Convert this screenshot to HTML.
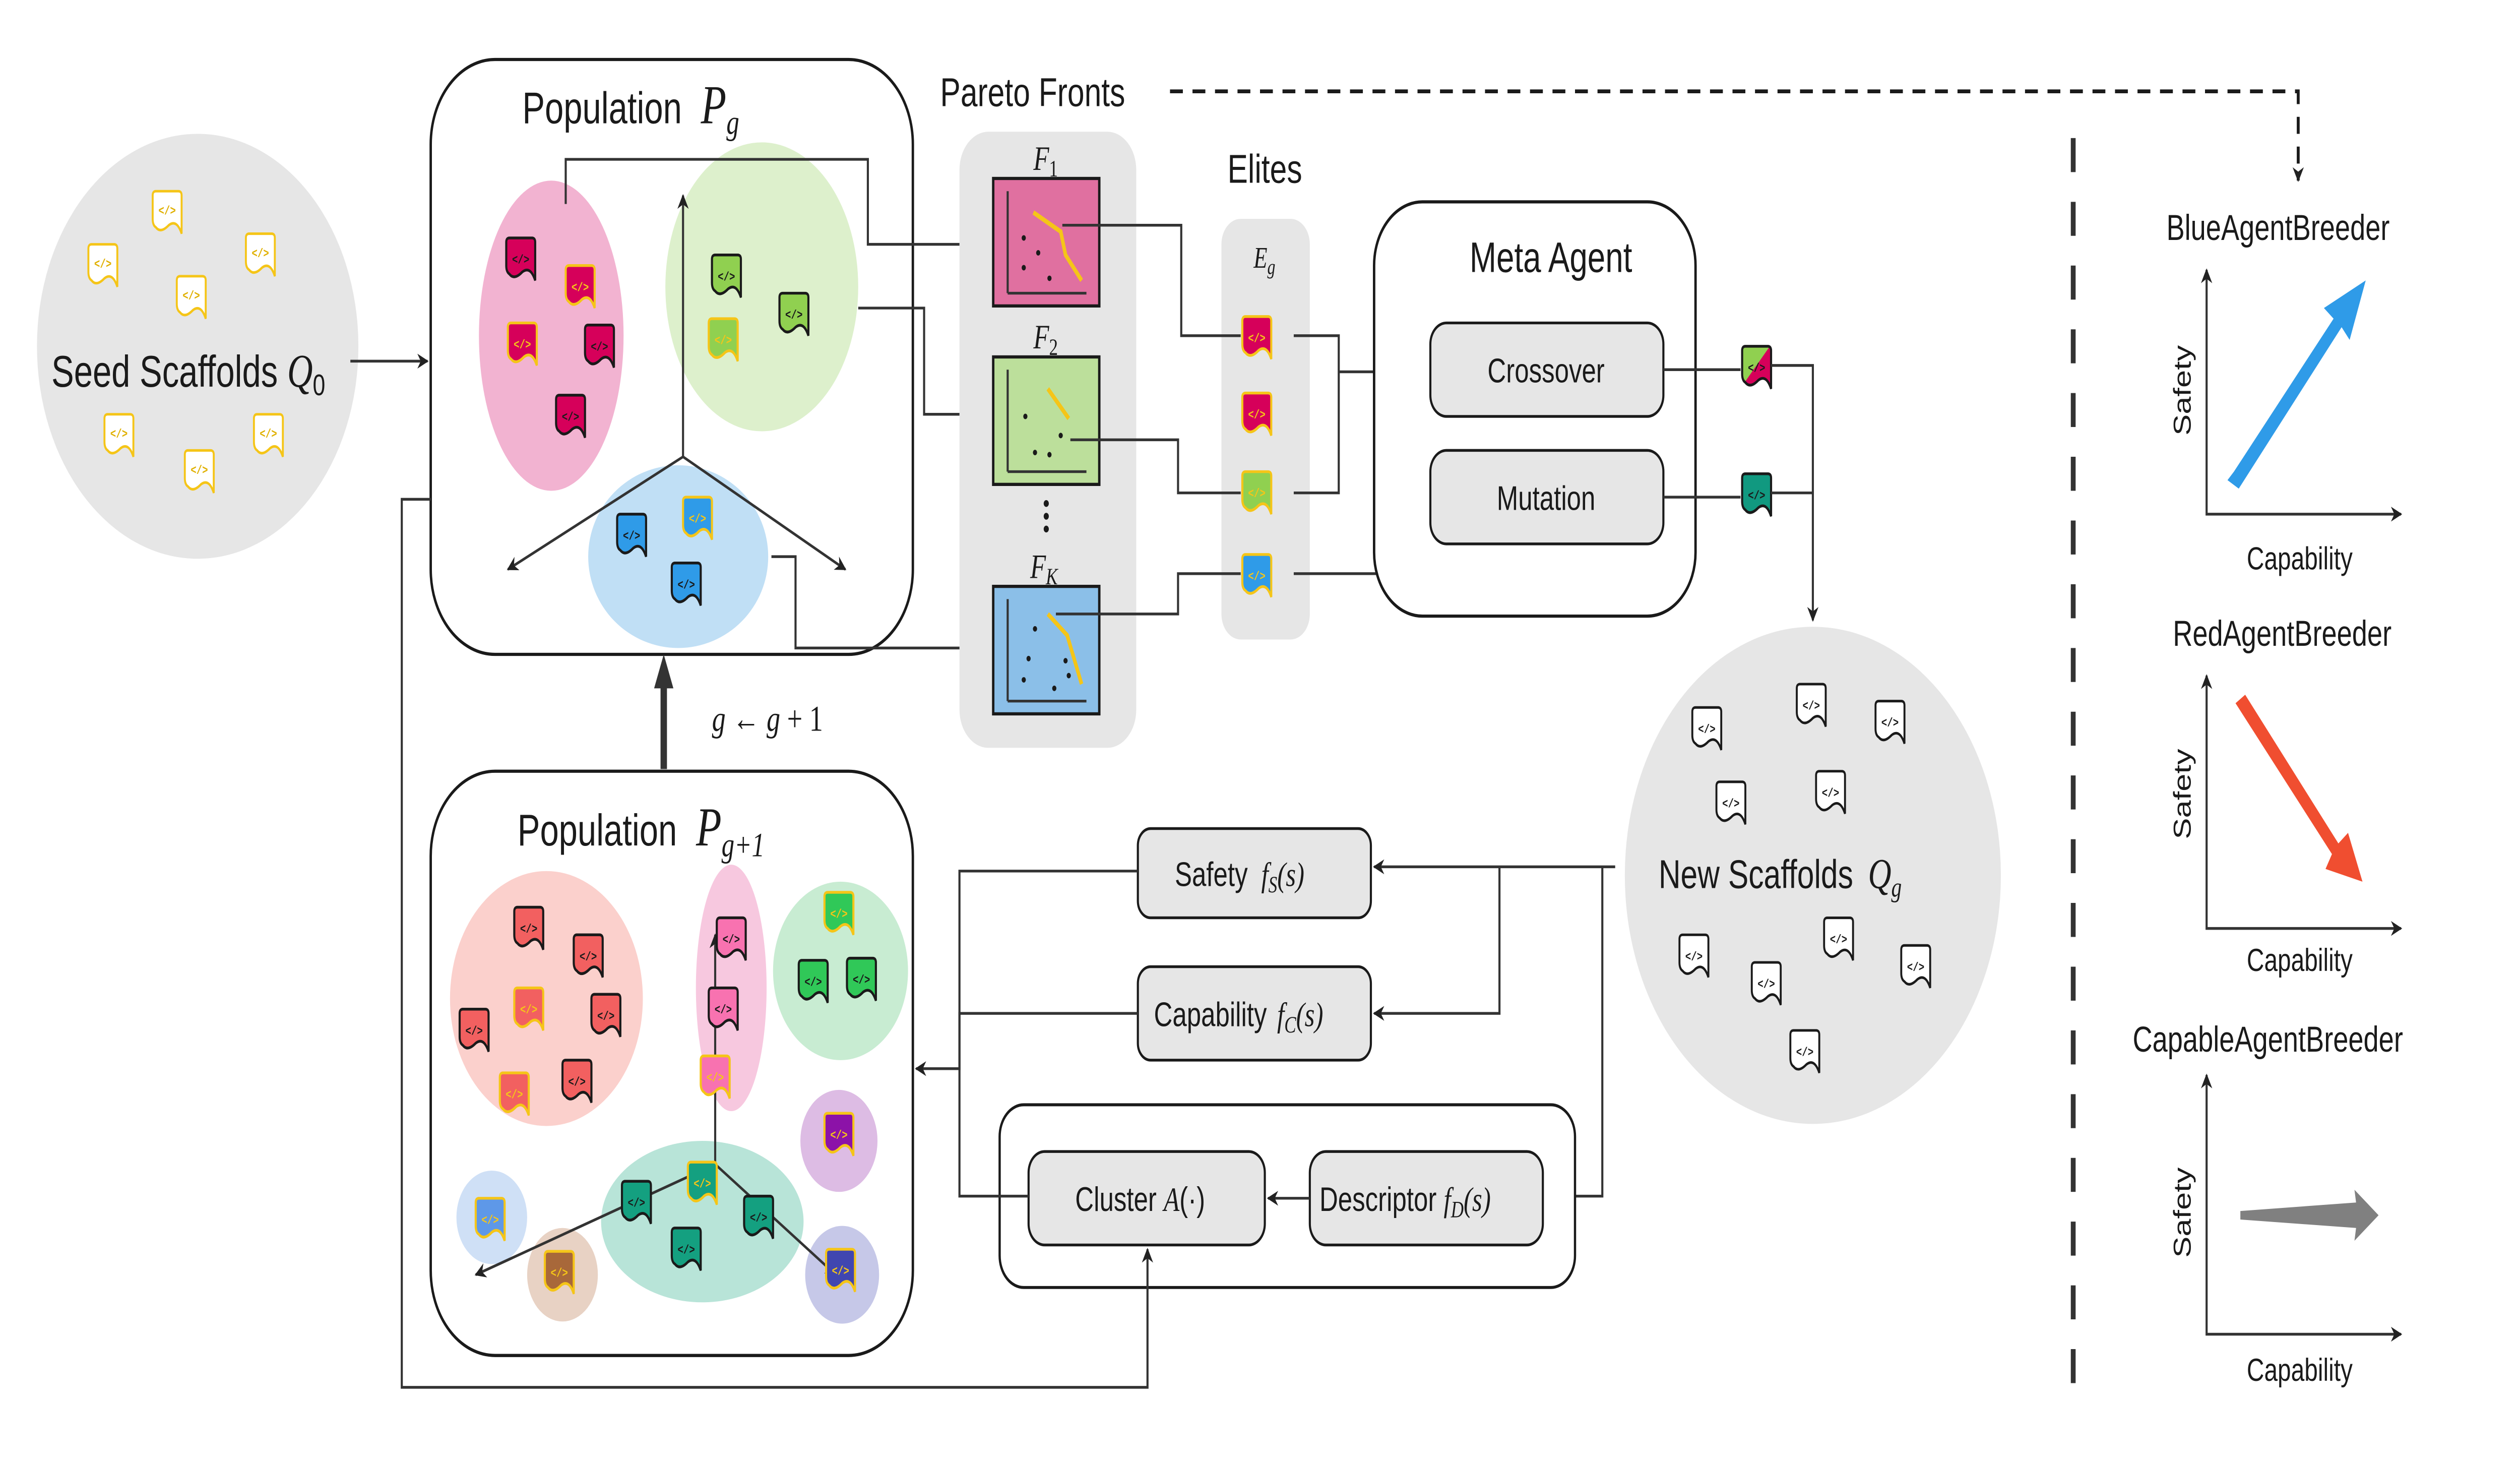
<!DOCTYPE html>
<html><head><meta charset="utf-8"><style>
html,body{margin:0;padding:0;background:#fff;overflow:hidden;width:100%;height:100%}
svg{display:block;width:100vw;height:100vh}
text{font-family:"Liberation Sans",sans-serif;fill:#1a1a1a}
.m{font-family:"Liberation Serif",serif;font-style:italic}
.c{font-family:"Liberation Mono",monospace;font-size:6px;font-weight:bold;text-anchor:middle}
.ln{fill:none;stroke:#333;stroke-width:1.3}
</style></head><body>
<svg viewBox="0 0 1568 687.2" preserveAspectRatio="none" xmlns="http://www.w3.org/2000/svg">
<defs>
<marker id="ar" viewBox="0 0 10 10" refX="9" refY="5" markerWidth="7" markerHeight="7" orient="auto-start-reverse" markerUnits="userSpaceOnUse"><path d="M0,0 L10,5 L0,10 L3,5 Z" fill="#222"/></marker>
<path id="ic" d="M2,0 H16 Q18,0 18,2 V20 Q15,13 10,16 Q5,20 2,17 Q0,16 0,13 V2 Q0,0 2,0 Z"/>
</defs>
<rect width="1568" height="687.2" fill="#fff"/>

<!-- Seed -->
<circle cx="123" cy="163" r="100" fill="#e6e6e6"/>
<g stroke="#f5c518" stroke-width="1.2" fill="#fff">
<use href="#ic" x="95" y="90"/><use href="#ic" x="55" y="115"/><use href="#ic" x="110" y="130"/><use href="#ic" x="153" y="110"/><use href="#ic" x="65" y="195"/><use href="#ic" x="115" y="212"/><use href="#ic" x="158" y="195"/>
</g>
<text x="104" y="101" class="c" style="fill:#e0b000">&lt;/&gt;</text><text x="64" y="126" class="c" style="fill:#e0b000">&lt;/&gt;</text><text x="119" y="141" class="c" style="fill:#e0b000">&lt;/&gt;</text><text x="162" y="121" class="c" style="fill:#e0b000">&lt;/&gt;</text><text x="74" y="206" class="c" style="fill:#e0b000">&lt;/&gt;</text><text x="124" y="223" class="c" style="fill:#e0b000">&lt;/&gt;</text><text x="167" y="206" class="c" style="fill:#e0b000">&lt;/&gt;</text>
<text x="32" y="182" font-size="21">Seed Scaffolds <tspan class="m" font-size="22">Q</tspan><tspan font-size="14" dy="4">0</tspan></text>
<line x1="218" y1="170" x2="266" y2="170" class="ln" marker-end="url(#ar)"/>

<!-- Population Pg -->
<rect x="268" y="28" width="300" height="280" rx="40" fill="#fff" stroke="#1a1a1a" stroke-width="1.5"/>
<text x="325" y="58" font-size="21">Population <tspan class="m" font-size="26" dx="6">P</tspan><tspan class="m" font-size="16" dy="5">g</tspan></text>
<ellipse cx="343" cy="158" rx="45" ry="73" fill="#f2b3d1"/>
<ellipse cx="474" cy="135" rx="60" ry="68" fill="#ddf0cc"/>
<ellipse cx="422" cy="262" rx="56" ry="43" fill="#c0dff5"/>
<line x1="425" y1="215" x2="425" y2="92" class="ln" marker-end="url(#ar)"/>
<line x1="425" y1="215" x2="316" y2="268" class="ln" marker-end="url(#ar)"/>
<line x1="425" y1="215" x2="526" y2="268" class="ln" marker-end="url(#ar)"/>
<g stroke-width="1.3">
<use href="#ic" x="315" y="112" fill="#d6005a" stroke="#1a1a1a"/><use href="#ic" x="352" y="125" fill="#d6005a" stroke="#f5c518"/><use href="#ic" x="316" y="152" fill="#d6005a" stroke="#f5c518"/><use href="#ic" x="364" y="153" fill="#d6005a" stroke="#1a1a1a"/><use href="#ic" x="346" y="186" fill="#d6005a" stroke="#1a1a1a"/>
<use href="#ic" x="443" y="120" fill="#90d050" stroke="#1a1a1a"/><use href="#ic" x="441" y="150" fill="#90d050" stroke="#f5c518"/><use href="#ic" x="485" y="138" fill="#90d050" stroke="#1a1a1a"/>
<use href="#ic" x="384" y="242" fill="#2f9be8" stroke="#1a1a1a"/><use href="#ic" x="425" y="234" fill="#2f9be8" stroke="#f5c518"/><use href="#ic" x="418" y="265" fill="#2f9be8" stroke="#1a1a1a"/>
</g>
<text x="324" y="124" class="c">&lt;/&gt;</text><text x="361" y="137" class="c" style="fill:#f5c518">&lt;/&gt;</text><text x="325" y="164" class="c" style="fill:#f5c518">&lt;/&gt;</text><text x="373" y="165" class="c">&lt;/&gt;</text><text x="355" y="198" class="c">&lt;/&gt;</text>
<text x="452" y="132" class="c">&lt;/&gt;</text><text x="450" y="162" class="c" style="fill:#f5c518">&lt;/&gt;</text><text x="494" y="150" class="c">&lt;/&gt;</text>
<text x="393" y="254" class="c">&lt;/&gt;</text><text x="434" y="246" class="c" style="fill:#f5c518">&lt;/&gt;</text><text x="427" y="277" class="c">&lt;/&gt;</text>
<path d="M352,96 V75 H540 V115 H615" class="ln" marker-end="url(#ar)"/>
<path d="M534,145 H575 V195 H615" class="ln" marker-end="url(#ar)"/>
<path d="M480,262 H495 V305 H615" class="ln" marker-end="url(#ar)"/>

<!-- Pareto -->
<text x="585" y="50" font-size="19">Pareto Fronts</text>
<path d="M728,43 H1430 V85" fill="none" stroke="#1a1a1a" stroke-width="1.8" stroke-dasharray="8,6" marker-end="url(#ar)"/>
<rect x="597" y="62" width="110" height="290" rx="18" fill="#e6e6e6"/>
<rect x="618" y="84" width="66" height="60" fill="#e070a0" stroke="#1a1a1a" stroke-width="1.5"/>
<rect x="618" y="168" width="66" height="60" fill="#bcdf9b" stroke="#1a1a1a" stroke-width="1.5"/>
<rect x="618" y="276" width="66" height="60" fill="#8bbfe8" stroke="#1a1a1a" stroke-width="1.5"/>
<g class="ln" stroke="#1a1a1a" stroke-width="0.9">
<path d="M627,138 V90 M627,138 H676"/><path d="M627,222 V174 M627,222 H676"/><path d="M627,330 V282 M627,330 H676"/>
</g>
<path d="M643,100 L660,109 L663,120 L673,132" fill="none" stroke="#f5c518" stroke-width="2.2"/>
<path d="M652,183 L665,197" fill="none" stroke="#f5c518" stroke-width="2.2"/>
<path d="M652,289 L664,299 L673,322" fill="none" stroke="#f5c518" stroke-width="2.2"/>
<g fill="#1a1a1a"><circle cx="637" cy="112" r="1.3"/><circle cx="646" cy="119" r="1.3"/><circle cx="637" cy="126" r="1.3"/><circle cx="653" cy="131" r="1.3"/>
<circle cx="638" cy="196" r="1.3"/><circle cx="660" cy="205" r="1.3"/><circle cx="644" cy="213" r="1.3"/><circle cx="653" cy="214" r="1.3"/>
<circle cx="644" cy="296" r="1.3"/><circle cx="640" cy="310" r="1.3"/><circle cx="663" cy="311" r="1.3"/><circle cx="637" cy="320" r="1.3"/><circle cx="656" cy="324" r="1.3"/><circle cx="665" cy="318" r="1.3"/>
<circle cx="651" cy="237" r="1.6"/><circle cx="651" cy="243" r="1.6"/><circle cx="651" cy="249" r="1.6"/></g>
<text x="643" y="80" font-size="16" class="m">F<tspan font-size="11" dy="3" font-style="normal">1</tspan></text>
<text x="643" y="164" font-size="16" class="m">F<tspan font-size="11" dy="3" font-style="normal">2</tspan></text>
<text x="641" y="272" font-size="16" class="m">F<tspan font-size="11" dy="3">K</tspan></text>

<!-- Elites -->
<text x="787" y="86" font-size="19" text-anchor="middle">Elites</text>
<rect x="760" y="103" width="55" height="198" rx="12" fill="#e6e6e6"/>
<text x="780" y="126" font-size="14" class="m">E<tspan font-size="10" dy="3">g</tspan></text>
<path d="M661,106 H735 V158 H772" class="ln"/>
<path d="M666,207 H733 V232 H772" class="ln"/>
<path d="M657,289 H733 V270 H772" class="ln"/>
<g stroke="#f5c518" stroke-width="1.3">
<use href="#ic" x="773" y="149" fill="#d6005a"/><use href="#ic" x="773" y="185" fill="#d6005a"/><use href="#ic" x="773" y="222" fill="#90d050"/><use href="#ic" x="773" y="261" fill="#2f9be8"/>
</g>
<text x="782" y="161" class="c" style="fill:#f5c518">&lt;/&gt;</text><text x="782" y="197" class="c" style="fill:#f5c518">&lt;/&gt;</text><text x="782" y="234" class="c" style="fill:#f5c518">&lt;/&gt;</text><text x="782" y="273" class="c" style="fill:#f5c518">&lt;/&gt;</text>
<path d="M805,158 H833 V232 H805" class="ln"/>
<path d="M833,175 H888" class="ln" marker-end="url(#ar)"/>
<path d="M805,270 H875 V232 H888" class="ln" marker-end="url(#ar)"/>

<!-- Meta Agent -->
<rect x="855" y="95" width="200" height="195" rx="30" fill="#fff" stroke="#1a1a1a" stroke-width="1.5"/>
<text x="965" y="128" font-size="20" text-anchor="middle">Meta Agent</text>
<rect x="890" y="152" width="145" height="44" rx="10" fill="#e6e6e6" stroke="#1a1a1a" stroke-width="1.3"/>
<rect x="890" y="212" width="145" height="44" rx="10" fill="#e6e6e6" stroke="#1a1a1a" stroke-width="1.3"/>
<text x="962" y="180" font-size="16" text-anchor="middle">Crossover</text>
<text x="962" y="240" font-size="16" text-anchor="middle">Mutation</text>
<path d="M1035,174 H1083" class="ln"/><path d="M1035,234 H1083" class="ln"/>
<clipPath id="cp"><use href="#ic" x="1084" y="163"/></clipPath>
<g clip-path="url(#cp)"><rect x="1080" y="160" width="30" height="30" fill="#d6005a"/><path d="M1080,160 H1104 L1080,186 Z" fill="#90d050"/></g>
<use href="#ic" x="1084" y="163" fill="none" stroke="#1a1a1a" stroke-width="1.3"/>
<use href="#ic" x="1084" y="223" fill="#119980" stroke="#1a1a1a" stroke-width="1.3"/>
<text x="1093" y="175" class="c">&lt;/&gt;</text><text x="1093" y="235" class="c">&lt;/&gt;</text>
<path d="M1102,172 H1128 V292" class="ln" marker-end="url(#ar)"/><path d="M1102,232 H1128" class="ln"/>

<!-- New scaffolds -->
<circle cx="1128" cy="412" r="117" fill="#e6e6e6"/>
<g fill="#fff" stroke="#1a1a1a" stroke-width="1.2">
<use href="#ic" x="1053" y="333"/><use href="#ic" x="1118" y="322"/><use href="#ic" x="1167" y="330"/><use href="#ic" x="1068" y="368"/><use href="#ic" x="1130" y="363"/><use href="#ic" x="1045" y="440"/><use href="#ic" x="1090" y="453"/><use href="#ic" x="1135" y="432"/><use href="#ic" x="1183" y="445"/><use href="#ic" x="1114" y="485"/>
</g>
<text x="1062" y="345" class="c">&lt;/&gt;</text><text x="1127" y="334" class="c">&lt;/&gt;</text><text x="1176" y="342" class="c">&lt;/&gt;</text><text x="1077" y="380" class="c">&lt;/&gt;</text><text x="1139" y="375" class="c">&lt;/&gt;</text><text x="1054" y="452" class="c">&lt;/&gt;</text><text x="1099" y="465" class="c">&lt;/&gt;</text><text x="1144" y="444" class="c">&lt;/&gt;</text><text x="1192" y="457" class="c">&lt;/&gt;</text><text x="1123" y="497" class="c">&lt;/&gt;</text>
<text x="1032" y="418" font-size="19">New Scaffolds <tspan class="m" font-size="20" dx="4">Q</tspan><tspan class="m" font-size="13" dy="4">g</tspan></text>

<!-- eval boxes -->
<path d="M1005,408 H855" class="ln" marker-end="url(#ar)"/>
<path d="M933,408 V477 H855" class="ln" marker-end="url(#ar)"/>
<path d="M997,408 V563 H963" class="ln" marker-end="url(#ar)"/>
<rect x="708" y="390" width="145" height="42" rx="8" fill="#e6e6e6" stroke="#1a1a1a" stroke-width="1.3"/>
<rect x="708" y="455" width="145" height="44" rx="8" fill="#e6e6e6" stroke="#1a1a1a" stroke-width="1.3"/>
<text x="731" y="417" font-size="16">Safety <tspan class="m" dx="4">f</tspan><tspan class="m" font-size="11" dy="3">S</tspan><tspan class="m" dy="-3">(s)</tspan></text>
<text x="718" y="483" font-size="16">Capability <tspan class="m" dx="2">f</tspan><tspan class="m" font-size="11" dy="3">C</tspan><tspan class="m" dy="-3">(s)</tspan></text>
<rect x="622" y="520" width="358" height="86" rx="15" fill="#fff" stroke="#1a1a1a" stroke-width="1.4"/>
<rect x="640" y="542" width="147" height="44" rx="10" fill="#e6e6e6" stroke="#1a1a1a" stroke-width="1.3"/>
<rect x="815" y="542" width="145" height="44" rx="10" fill="#e6e6e6" stroke="#1a1a1a" stroke-width="1.3"/>
<text x="669" y="570" font-size="16">Cluster <tspan class="m">A</tspan>(·)</text>
<text x="821" y="570" font-size="16">Descriptor <tspan class="m">f</tspan><tspan class="m" font-size="11" dy="3">D</tspan><tspan class="m" dy="-3">(s)</tspan></text>
<path d="M815,564 H789" class="ln" marker-end="url(#ar)"/>
<path d="M708,410 H597 V563 H640" class="ln"/>
<path d="M708,477 H597 V503 H570" class="ln" marker-end="url(#ar)"/>
<path d="M268,235 H250 V653 H714 V588" class="ln" marker-end="url(#ar)"/>

<!-- g <- g+1 -->
<path d="M413,362 V322" stroke="#333" stroke-width="4"/>
<path d="M407,324 L413,308 L419,324 Z" fill="#333"/>
<text x="443" y="344" font-size="17" class="m">g <tspan font-style="normal">←</tspan> g <tspan font-style="normal">+ 1</tspan></text>

<!-- Population Pg+1 -->
<rect x="268" y="363" width="300" height="275" rx="40" fill="#fff" stroke="#1a1a1a" stroke-width="1.5"/>
<text x="322" y="398" font-size="21">Population <tspan class="m" font-size="26" dx="6">P</tspan><tspan class="m" font-size="16" dy="5">g+1</tspan></text>
<circle cx="340" cy="470" r="60" fill="#fbd0cc"/>
<ellipse cx="455" cy="465" rx="22" ry="58" fill="#f7c8df"/>
<circle cx="523" cy="457" r="42" fill="#c8ecd2"/>
<circle cx="522" cy="537" r="24" fill="#ddbce4"/>
<circle cx="306" cy="573" r="22" fill="#cfe0f6"/>
<circle cx="350" cy="600" r="22" fill="#e8d2c4"/>
<ellipse cx="437" cy="575" rx="63" ry="38" fill="#b8e4d8"/>
<circle cx="524" cy="600" r="23" fill="#c6c8e8"/>
<line x1="445" y1="548" x2="445" y2="440" class="ln" marker-end="url(#ar)"/>
<line x1="445" y1="548" x2="296" y2="600" class="ln" marker-end="url(#ar)"/>
<line x1="445" y1="548" x2="520" y2="600" class="ln" marker-end="url(#ar)"/>
<g stroke-width="1.3">
<use href="#ic" x="320" y="427" fill="#f26060" stroke="#1a1a1a"/><use href="#ic" x="357" y="440" fill="#f26060" stroke="#1a1a1a"/><use href="#ic" x="286" y="475" fill="#f26060" stroke="#1a1a1a"/><use href="#ic" x="320" y="465" fill="#f26060" stroke="#f5c518"/><use href="#ic" x="368" y="468" fill="#f26060" stroke="#1a1a1a"/><use href="#ic" x="311" y="505" fill="#f26060" stroke="#f5c518"/><use href="#ic" x="350" y="499" fill="#f26060" stroke="#1a1a1a"/>
<use href="#ic" x="446" y="432" fill="#f872b0" stroke="#1a1a1a"/><use href="#ic" x="441" y="465" fill="#f872b0" stroke="#1a1a1a"/><use href="#ic" x="436" y="497" fill="#f872b0" stroke="#f5c518"/>
<use href="#ic" x="513" y="420" fill="#30c858" stroke="#f5c518"/><use href="#ic" x="497" y="452" fill="#30c858" stroke="#1a1a1a"/><use href="#ic" x="527" y="451" fill="#30c858" stroke="#1a1a1a"/>
<use href="#ic" x="513" y="524" fill="#8c12a8" stroke="#f5c518"/>
<use href="#ic" x="296" y="564" fill="#5e98e8" stroke="#f5c518"/>
<use href="#ic" x="339" y="589" fill="#a8683a" stroke="#f5c518"/>
<use href="#ic" x="387" y="556" fill="#14a080" stroke="#1a1a1a"/><use href="#ic" x="428" y="547" fill="#14a080" stroke="#f5c518"/><use href="#ic" x="418" y="578" fill="#14a080" stroke="#1a1a1a"/><use href="#ic" x="463" y="563" fill="#14a080" stroke="#1a1a1a"/>
<use href="#ic" x="514" y="588" fill="#4046b0" stroke="#f5c518"/>
</g>
<text x="329" y="439" class="c">&lt;/&gt;</text><text x="366" y="452" class="c">&lt;/&gt;</text><text x="295" y="487" class="c">&lt;/&gt;</text><text x="329" y="477" class="c" style="fill:#f5c518">&lt;/&gt;</text><text x="377" y="480" class="c">&lt;/&gt;</text><text x="320" y="517" class="c" style="fill:#f5c518">&lt;/&gt;</text><text x="359" y="511" class="c">&lt;/&gt;</text>
<text x="455" y="444" class="c">&lt;/&gt;</text><text x="450" y="477" class="c">&lt;/&gt;</text><text x="445" y="509" class="c" style="fill:#f5c518">&lt;/&gt;</text>
<text x="522" y="432" class="c" style="fill:#f5c518">&lt;/&gt;</text><text x="506" y="464" class="c">&lt;/&gt;</text><text x="536" y="463" class="c">&lt;/&gt;</text>
<text x="522" y="536" class="c" style="fill:#f5c518">&lt;/&gt;</text><text x="305" y="576" class="c" style="fill:#f5c518">&lt;/&gt;</text><text x="348" y="601" class="c" style="fill:#f5c518">&lt;/&gt;</text>
<text x="396" y="568" class="c">&lt;/&gt;</text><text x="437" y="559" class="c" style="fill:#f5c518">&lt;/&gt;</text><text x="427" y="590" class="c">&lt;/&gt;</text><text x="472" y="575" class="c">&lt;/&gt;</text><text x="523" y="600" class="c" style="fill:#f5c518">&lt;/&gt;</text>

<!-- right panel -->
<line x1="1290" y1="65" x2="1290" y2="660" stroke="#333" stroke-width="3" stroke-dasharray="16,14"/>
<text x="1348" y="113" font-size="17">BlueAgentBreeder</text>
<path d="M1373,127 V242 H1494" class="ln" stroke="#1a1a1a" marker-start="url(#ar)" marker-end="url(#ar)"/>
<text transform="translate(1363,205) rotate(-90)" font-size="15">Safety</text>
<text x="1398" y="268" font-size="15">Capability</text>
<path d="M1386,226 L1390,222 L1452,150 L1446,145 L1472,132 L1462,160 L1457,154 L1393,230 Z" fill="#2f9be8"/>

<text x="1352" y="304" font-size="17">RedAgentBreeder</text>
<path d="M1373,318 V437 H1494" class="ln" stroke="#1a1a1a" marker-start="url(#ar)" marker-end="url(#ar)"/>
<text transform="translate(1363,395) rotate(-90)" font-size="15">Safety</text>
<text x="1398" y="457" font-size="15">Capability</text>
<path d="M1391,331 L1397,327 L1455,397 L1461,392 L1470,415 L1447,409 L1451,402 Z" fill="#f04e30"/>

<text x="1327" y="495" font-size="17">CapableAgentBreeder</text>
<path d="M1373,506 V628 H1494" class="ln" stroke="#1a1a1a" marker-start="url(#ar)" marker-end="url(#ar)"/>
<text transform="translate(1363,592) rotate(-90)" font-size="15">Safety</text>
<text x="1398" y="650" font-size="15">Capability</text>
<path d="M1394,570 L1466,566 L1465,560 L1480,572 L1465,584 L1466,578 L1394,574 Z" fill="#808080"/>
</svg>
</body></html>
